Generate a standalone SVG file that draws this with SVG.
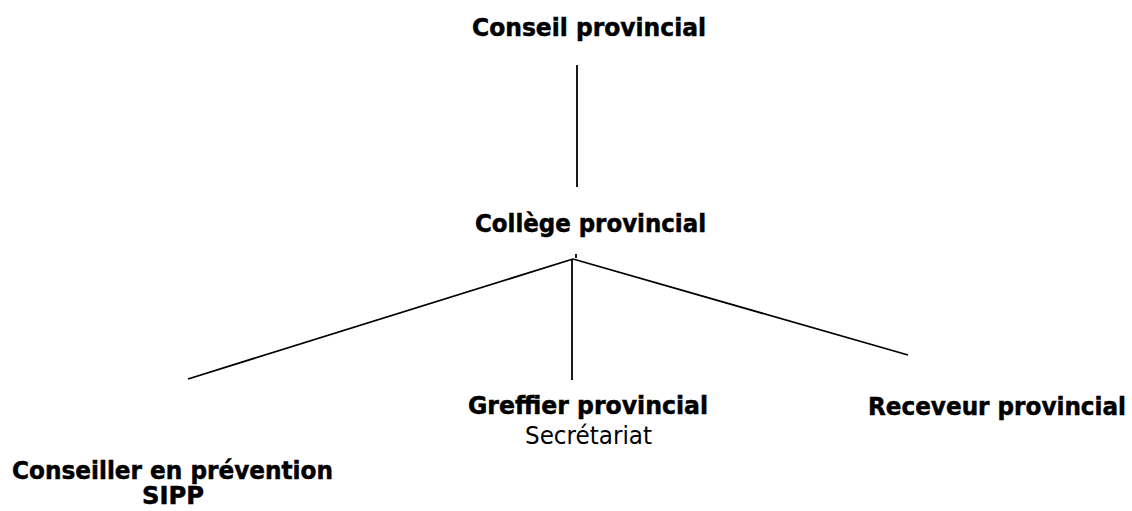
<svg xmlns="http://www.w3.org/2000/svg" width="1132" height="511" viewBox="0 0 1132 511">
<style>
text{font-family:"DejaVu Sans","Liberation Sans",sans-serif;font-size:24px;fill:#000}
.b{font-weight:bold;stroke:#000;stroke-width:0.5}
.r{font-weight:normal}
line{stroke:#000;stroke-width:1.8}
</style>
<rect width="1132" height="511" fill="#fff"/>
<g id="connectors">
<line x1="577" y1="65" x2="577" y2="187"/>
<line x1="576" y1="254" x2="576" y2="258"/>
<line x1="573" y1="259" x2="188" y2="379"/>
<line x1="573" y1="259" x2="908" y2="355"/>
<line x1="572" y1="259" x2="572" y2="380"/>
</g>
<g id="conseil"><text class="b" x="472" y="36" textLength="234" lengthAdjust="spacingAndGlyphs">Conseil provincial</text></g>
<g id="college"><text class="b" x="475" y="232" textLength="231" lengthAdjust="spacingAndGlyphs">Collège provincial</text></g>
<g id="greffier"><text class="b" x="468" y="414" textLength="240" lengthAdjust="spacingAndGlyphs">Greffier provincial</text><text class="r" x="525" y="444" textLength="127" lengthAdjust="spacingAndGlyphs">Secrétariat</text></g>
<g id="receveur"><text class="b" x="868" y="415" textLength="258" lengthAdjust="spacingAndGlyphs">Receveur provincial</text></g>
<g id="conseiller"><text class="b" x="12" y="479" textLength="321" lengthAdjust="spacingAndGlyphs">Conseiller en prévention</text><text class="b" x="142" y="504" textLength="62" lengthAdjust="spacingAndGlyphs">SIPP</text></g>
</svg>
